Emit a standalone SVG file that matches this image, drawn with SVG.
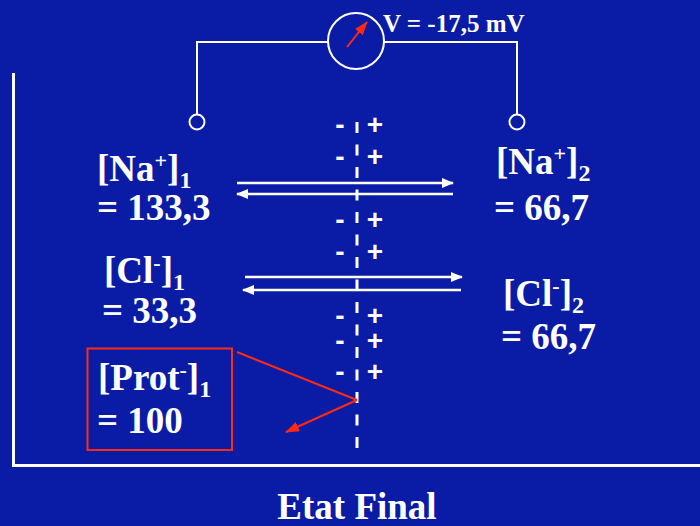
<svg xmlns="http://www.w3.org/2000/svg" width="700" height="526" viewBox="0 0 700 526">
<style>
.lbl{font-family:"Liberation Serif","Times New Roman",serif;font-weight:bold;fill:#ffffff;font-size:37px}
.sup{font-size:22px}
.sub{font-size:24px}
.pm{font-family:"Liberation Sans",Arial,sans-serif;font-weight:bold;fill:#ffffff;font-size:28px;text-anchor:middle}
.wire{stroke:#ffffff;stroke-width:2;fill:none}
.arr{stroke:#ffffff;stroke-width:2.5;fill:none}
.red{stroke:#ff2a10;stroke-width:2;fill:none}
</style>
<defs>
<marker id="wh" viewBox="0 0 12 10" refX="11" refY="5" markerWidth="12" markerHeight="10" markerUnits="userSpaceOnUse" orient="auto">
<path d="M0,0 L12,5 L0,10 Z" fill="#ffffff"/>
</marker>
<marker id="rh" viewBox="0 0 14 10" refX="13" refY="5" markerWidth="14" markerHeight="10" markerUnits="userSpaceOnUse" orient="auto">
<path d="M0,0 L14,5 L0,10 Z" fill="#ff2a10"/>
</marker>
</defs>
<rect x="0" y="0" width="700" height="526" fill="#0a1ca6"/>

<g id="container">
<path d="M13.5,73 L13.5,465.5 L700,465.5" stroke="#ffffff" stroke-width="3" fill="none"/>
</g>

<g id="voltmeter">
<circle cx="356" cy="41" r="28" class="wire"/>
<line x1="347" y1="47" x2="367" y2="22" class="red" marker-end="url(#rh)"/>
<text x="383" y="32" class="lbl" style="font-size:25px">V = -17,5 mV</text>
</g>

<g id="electrode1">
<circle cx="197" cy="122" r="7.5" class="wire"/>
</g>
<g id="electrode2">
<circle cx="517" cy="122" r="7.5" class="wire"/>
</g>

<g id="membrane">
<line x1="357" y1="122" x2="357" y2="448" stroke="#ffffff" stroke-width="3" stroke-dasharray="11 11.5"/>
<text x="340" y="134" class="pm">-</text><text x="375" y="134" class="pm">+</text>
<text x="340" y="166" class="pm">-</text><text x="375" y="166" class="pm">+</text>
<text x="340" y="229" class="pm">-</text><text x="375" y="229" class="pm">+</text>
<text x="340" y="261" class="pm">-</text><text x="375" y="261" class="pm">+</text>
<text x="340" y="325" class="pm">-</text><text x="375" y="325" class="pm">+</text>
<text x="340" y="350" class="pm">-</text><text x="375" y="350" class="pm">+</text>
<text x="340" y="381" class="pm">-</text><text x="375" y="381" class="pm">+</text>
</g>

<g id="na1">
<text x="97" y="181" class="lbl">[Na<tspan class="sup" dy="-13">+</tspan><tspan dy="13">]</tspan><tspan class="sub" dy="7">1</tspan></text>
<text x="97" y="220" class="lbl">= 133,3</text>
</g>

<g id="na2">
<text x="496" y="174" class="lbl">[Na<tspan class="sup" dy="-13">+</tspan><tspan dy="13">]</tspan><tspan class="sub" dy="7">2</tspan></text>
<text x="494" y="220" class="lbl">= 66,7</text>
</g>

<g id="cl1">
<text x="104" y="283" class="lbl">[Cl<tspan class="sup" dy="-13">-</tspan><tspan dy="13">]</tspan><tspan class="sub" dy="7">1</tspan></text>
<text x="102" y="323" class="lbl">= 33,3</text>
</g>

<g id="cl2">
<text x="503" y="306" class="lbl">[Cl<tspan class="sup" dy="-13">-</tspan><tspan dy="13">]</tspan><tspan class="sub" dy="7">2</tspan></text>
<text x="501" y="349" class="lbl">= 66,7</text>
</g>

<g id="prot">
<rect x="87.5" y="348.5" width="144.5" height="101.5" class="red"/>
<text x="98" y="390" class="lbl">[Prot<tspan class="sup" dy="-13">-</tspan><tspan dy="13">]</tspan><tspan class="sub" dy="7">1</tspan></text>
<text x="97" y="433" class="lbl">= 100</text>
</g>

<g id="title">
<text x="357" y="519" class="lbl" text-anchor="middle">Etat Final</text>
</g>

<g id="connectors">
<path d="M197,114.5 L197,42 L328,42" class="wire"/>
<path d="M384,42 L517,42 L517,114.5" class="wire"/>
<line x1="237" y1="183" x2="453" y2="183" class="arr" marker-end="url(#wh)"/>
<line x1="453" y1="194" x2="237" y2="194" class="arr" marker-end="url(#wh)"/>
<line x1="245" y1="277" x2="462" y2="277" class="arr" marker-end="url(#wh)"/>
<line x1="461" y1="290" x2="243" y2="290" class="arr" marker-end="url(#wh)"/>
<line x1="237" y1="352" x2="357" y2="400" class="red"/>
<line x1="357" y1="400" x2="286" y2="432" class="red" marker-end="url(#rh)"/>
</g>
</svg>
